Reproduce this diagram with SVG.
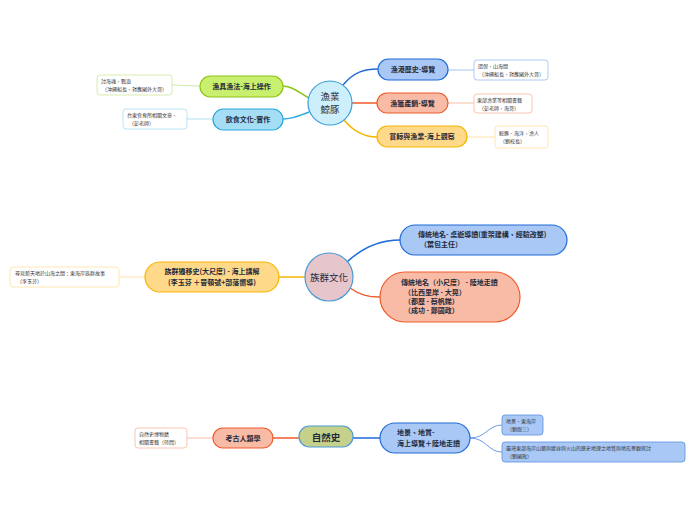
<svg xmlns="http://www.w3.org/2000/svg" width="696" height="520" viewBox="0 0 696 520">
<style>
text{font-family:"Noto Sans CJK TC","Noto Sans",sans-serif;fill:#1f2a3a}
.c{font-size:9.5px}
.n{font-size:7px;font-weight:bold}
.l{font-size:5px;fill:#333}
.blue{fill:#a9c8f5;stroke:#1f6bd8;stroke-width:1.2}
.red{fill:#f8bba6;stroke:#f05a28;stroke-width:1.2}
.yel{fill:#ffd98a;stroke:#f7b500;stroke-width:1.2}
.lime{fill:#c9ef6e;stroke:#8cc414;stroke-width:1.2}
.sky{fill:#a5ddf5;stroke:#2aa8e0;stroke-width:1.2}
.lf{fill:#fff;stroke-width:0.8}
.w{fill:none;stroke-width:1.5}
.t{fill:none;stroke-width:0.9}
</style>
<rect width="696" height="520" fill="#fff"/>
<g id="connectors">
<path class="w" stroke="#8cc414" d="M309,98 C298,92 294,87 283,86"/>
<path class="w" stroke="#2aa8e0" d="M309,112 C298,116 294,119 283,119"/>
<path class="w" stroke="#1f6bd8" d="M343,85 C354,72 364,69 378,69"/>
<path class="w" stroke="#f05a28" d="M352,103 L377,103"/>
<path class="w" stroke="#f7b500" d="M344,120 C354,132 364,137 377,137"/>
<path class="t" stroke="#cbe89a" d="M172,85 L200,86"/>
<path class="t" stroke="#a8dcf3" d="M187,119 L213,119"/>
<path class="t" stroke="#9dbdf0" d="M448,70 L474,70"/>
<path class="t" stroke="#f8b7a0" d="M448,103 L474,103"/>
<path class="t" stroke="#ffe0a0" d="M467,137 L495,137"/>
<path class="w" stroke="#f7b500" d="M279,277 L305,277"/>
<path class="t" stroke="#ffe0a0" d="M119,277 L145,277"/>
<path class="w" stroke="#1f6bd8" d="M347,262 C362,248 378,240 400,240"/>
<path class="w" stroke="#f05a28" d="M350,288 C360,295 368,297 380,297"/>
<path class="w" stroke="#f05a28" d="M273,438 L299,438"/>
<path class="t" stroke="#f8b7a0" d="M187,438 L213,438"/>
<path class="w" stroke="#1f6bd8" d="M353,438 L380,438"/>
<path class="t" stroke="#5c8fe0" d="M470,438 C486,438 488,425 502,425"/>
<path class="t" stroke="#5c8fe0" d="M470,438 C486,438 488,452 502,452"/>
</g>
<g id="fishery">
<circle cx="330" cy="103" r="22" fill="#cdeefb" stroke="#3b9fd8" stroke-width="1.2"/>
<text class="c" x="330" y="100" text-anchor="middle">漁業</text>
<text class="c" x="330" y="113" text-anchor="middle">鯨豚</text>
</g>
<g id="gear">
<rect class="lime" x="200" y="76" width="83" height="21" rx="10.5"/>
<text class="n" x="241.5" y="89" text-anchor="middle">漁具漁法-海上操作</text>
</g>
<g id="gear-leaf">
<rect class="lf" stroke="#cbe89a" x="97" y="75" width="75" height="20" rx="3"/>
<text class="l" x="101" y="83">討海魂、戰浪</text>
<text class="l" x="102" y="91">（沖繩船長、對應國外大哥）</text>
</g>
<g id="food">
<rect class="sky" x="213" y="109" width="70" height="21" rx="10.5"/>
<text class="n" x="248" y="122" text-anchor="middle">飲食文化-實作</text>
</g>
<g id="food-leaf">
<rect class="lf" stroke="#a8dcf3" x="123" y="109" width="64" height="20" rx="3"/>
<text class="l" x="127" y="117">台東食育所相關文章、</text>
<text class="l" x="129" y="125">（彭老師）</text>
</g>
<g id="harbor">
<rect class="blue" x="378" y="59" width="70" height="21" rx="10.5"/>
<text class="n" x="413" y="72" text-anchor="middle">漁港歷史-導覽</text>
</g>
<g id="harbor-leaf">
<rect class="lf" stroke="#9dbdf0" x="474" y="60" width="74" height="20" rx="3"/>
<text class="l" x="478" y="68">環保、山海間</text>
<text class="l" x="479" y="76">（沖繩船長、對應國外大哥）</text>
</g>
<g id="catch">
<rect class="red" x="377" y="93" width="71" height="20" rx="10"/>
<text class="n" x="412.5" y="106" text-anchor="middle">漁獲產銷-導覽</text>
</g>
<g id="catch-leaf">
<rect class="lf" stroke="#f8b7a0" x="474" y="94" width="58" height="19" rx="3"/>
<text class="l" x="477" y="102">東部漁業等相關書籍</text>
<text class="l" x="479" y="110">（彭老師、海哥）</text>
</g>
<g id="whale">
<rect class="yel" x="377" y="126" width="90" height="21" rx="10.5"/>
<text class="n" x="422" y="139" text-anchor="middle">賞鯨與漁業-海上觀察</text>
</g>
<g id="whale-leaf">
<rect class="lf" stroke="#ffe0a0" x="495" y="126" width="53" height="22" rx="3"/>
<text class="l" x="499" y="135">鯨豚、海洋、漁人</text>
<text class="l" x="500" y="143">（劉校長）</text>
</g>
<g id="ethnic">
<circle cx="329" cy="277" r="24" fill="#e6c5cb" stroke="#4a9bd5" stroke-width="1.2"/>
<text class="c" x="329" y="280.5" text-anchor="middle" fill="#333">族群文化</text>
</g>
<g id="migration">
<rect class="yel" x="145" y="262" width="134" height="30" rx="15"/>
<text class="n" x="212" y="274" text-anchor="middle">族群遷移史(大尺度) - 海上講解</text>
<text class="n" x="212" y="284.5" text-anchor="middle">(李玉芬 ＋晉頓號+部落嚮導)</text>
</g>
<g id="migration-leaf">
<rect class="lf" stroke="#ffe0a0" x="10" y="267" width="109" height="20" rx="3"/>
<text class="l" x="15" y="275">尋見新天地於山海之間：東海岸族群故事</text>
<text class="l" x="17" y="283">（李玉芬）</text>
</g>
<g id="placename-game">
<rect class="blue" x="400" y="225" width="167" height="30" rx="15"/>
<text class="n" x="418" y="237">傳統地名- 桌遊導讀(重架建構、經驗改整)</text>
<text class="n" x="420" y="247">（葉包主任）</text>
</g>
<g id="placename-walk">
<rect class="red" x="380" y="272" width="140" height="50" rx="25"/>
<text class="n" x="401" y="285">傳統地名（小尺度） - 陸地走讀</text>
<text class="n" x="404" y="295">（比西里岸 - 大晃）</text>
<text class="n" x="404" y="304">（都歷 - 蔡帆娣）</text>
<text class="n" x="404" y="313">（成功 - 鄭國政）</text>
</g>
<g id="natural">
<rect x="299" y="426" width="54" height="21" rx="10.5" fill="#c5d18a" stroke="#4b9bd5" stroke-width="1.2"/>
<text class="c" x="326" y="440.5" text-anchor="middle" font-weight="bold">自然史</text>
</g>
<g id="archaeology">
<rect class="red" x="213" y="428" width="60" height="20" rx="10"/>
<text class="n" x="243" y="441" text-anchor="middle">考古人類學</text>
</g>
<g id="archaeology-leaf">
<rect class="lf" stroke="#f8b7a0" x="135" y="428" width="52" height="20" rx="3"/>
<text class="l" x="139" y="436">自然史博物館</text>
<text class="l" x="139" y="444">相關書籍（待問）</text>
</g>
<g id="landscape">
<rect class="blue" x="380" y="423" width="90" height="30" rx="15"/>
<text class="n" x="397" y="435">地景、地質-</text>
<text class="n" x="397" y="446">海上導覽＋陸地走讀</text>
</g>
<g id="landscape-leaf1">
<rect x="502" y="415" width="41" height="20" rx="3" fill="#a9c8f5" stroke="#5c8fe0" stroke-width="0.8"/>
<text class="l" x="506" y="423">地景、東海岸</text>
<text class="l" x="507" y="431">（劉煜三）</text>
</g>
<g id="landscape-leaf2">
<rect x="502" y="442" width="183" height="20" rx="3" fill="#a9c8f5" stroke="#5c8fe0" stroke-width="0.8"/>
<text class="l" x="506" y="450">臺灣東部海岸山脈與縱谷與火山的歷史地理之地質與地形景觀探討</text>
<text class="l" x="507" y="458">（劉國政）</text>
</g>
</svg>
